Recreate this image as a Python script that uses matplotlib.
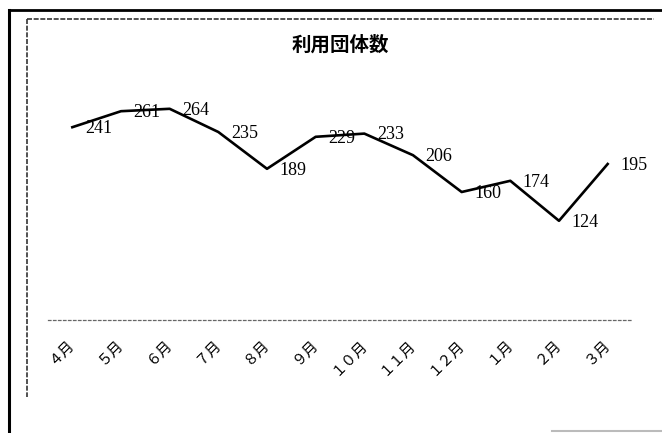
import matplotlib
matplotlib.use("Agg")
import matplotlib.pyplot as plt
from matplotlib.lines import Line2D

months = ["４月", "５月", "６月", "７月", "８月", "９月",
          "１０月", "１１月", "１２月", "１月", "２月", "３月"]
counts = [241, 261, 264, 235, 189, 229, 233, 206, 160, 174, 124, 195]
title = "利用団体数"

plt.rcParams['font.family'] = ['Noto Sans CJK JP', 'DejaVu Sans']

W, H = 662, 433
fig = plt.figure(figsize=(W / 100, H / 100), dpi=100)

# plot area in pixels: x 48..632, y 80..320 (from top)
ax = fig.add_axes([48 / W, (H - 320) / H, 584 / W, 240 / H])
x = list(range(len(counts)))
ax.plot(x, counts, color='black', linewidth=1.9)
ax.set_xlim(-0.5, len(counts) - 0.5)
ax.set_ylim(0, 300)

for xi, v in zip(x, counts):
    ax.annotate(str(v), (xi, v), xytext=(9, -1), textcoords='offset points',
                ha='left', va='center', fontsize=13,
                family=['Liberation Serif', 'DejaVu Serif'])

ax.set_xticks(x)
ax.set_xticklabels(months, rotation=45, ha='right', va='center',
                   rotation_mode='anchor', fontsize=10.5)
ax.tick_params(axis='x', length=0, pad=16)
ax.set_yticks([])
for s in ['top', 'right', 'left']:
    ax.spines[s].set_visible(False)
ax.spines['bottom'].set_linestyle((0, (2, 2)))
ax.spines['bottom'].set_color('#666666')
ax.spines['bottom'].set_linewidth(0.9)

fig.text(340 / W, 1 - 45 / H, title, ha='center', va='center',
         fontsize=14, fontweight='bold')

# scanned page frame lines
fig.add_artist(Line2D([9 / W, 9 / W], [1 - 10 / H, 0], color='black', lw=2.2))
fig.add_artist(Line2D([9 / W, 1], [1 - 10 / H, 1 - 10 / H], color='black', lw=2.0))
fig.add_artist(Line2D([27 / W, 27 / W], [1 - 19 / H, 1 - 397 / H], color='#333333',
                      lw=1.2, linestyle=(0, (3, 1))))
fig.add_artist(Line2D([27 / W, 654 / W], [1 - 19 / H, 1 - 19 / H], color='#333333',
                      lw=1.2, linestyle=(0, (3, 1))))
fig.add_artist(Line2D([552 / W, 1], [1 - 431 / H, 1 - 431 / H], color='#bbbbbb', lw=1.5))

fig.savefig("out.png", dpi=100)
